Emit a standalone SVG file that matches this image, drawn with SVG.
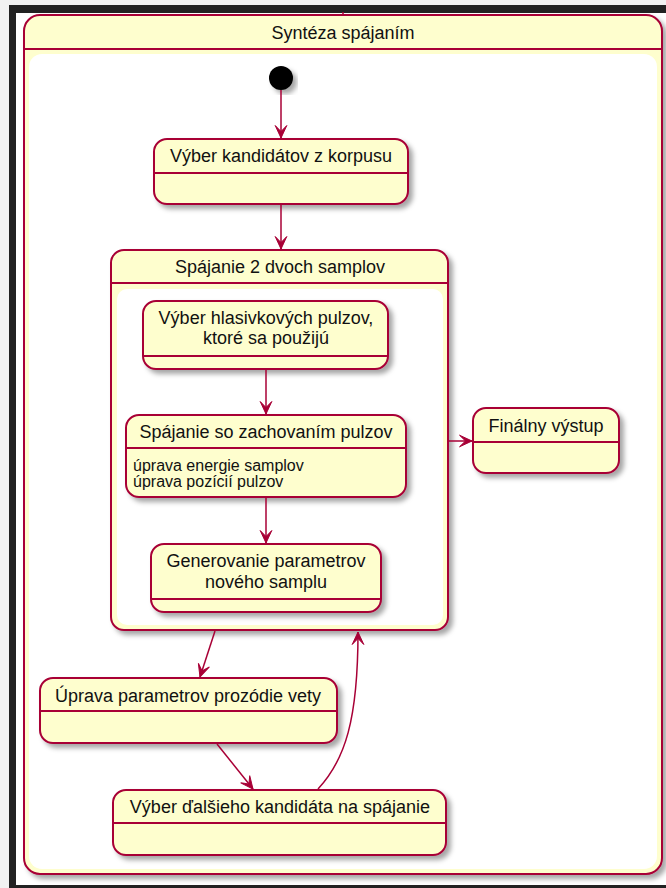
<svg xmlns="http://www.w3.org/2000/svg" width="666" height="888" viewBox="0 0 666 888">
<style>
.node{fill:#FEFECE;stroke:#A80036;stroke-width:2;filter:url(#sh)}
.sep{stroke:#A80036;stroke-width:2;fill:none}
.inner{fill:#FFFFFF;stroke:none}
.t{font-family:"Liberation Sans",Arial,sans-serif;font-size:18px;fill:#111;text-anchor:middle}
.s{font-family:"Liberation Sans",Arial,sans-serif;font-size:16px;fill:#111;text-anchor:start}
.edge{fill:none;stroke:#A80036;stroke-width:1.5;marker-end:url(#arr)}
</style>
<defs>
<filter id="sh" x="-10%" y="-10%" width="130%" height="130%">
<feDropShadow dx="4" dy="4" stdDeviation="2.5" flood-color="#000" flood-opacity="0.35"/>
</filter>
<marker id="arr" viewBox="-14 -8 16 16" markerUnits="userSpaceOnUse" markerWidth="16" markerHeight="16" refX="0" refY="0" orient="auto">
<path d="M0,0 L-12.5,-5.8 L-6.5,0 L-12.5,5.8 Z" fill="#A80036" stroke="#A80036" stroke-width="1"/>
</marker>
</defs>
<rect x="0" y="0" width="666" height="888" fill="#F2F2F2"/>
<rect x="9" y="5" width="657" height="883" fill="#222222"/>
<rect x="16" y="13" width="650" height="872" fill="#FFFFFF"/>

<g id="synteza">
<rect class="node" x="24" y="15" width="638" height="859" rx="16"/>
<line class="sep" x1="24" y1="49" x2="662" y2="49"/>
<rect class="inner" x="29" y="54" width="628" height="815" rx="13"/>
<text class="t" x="343" y="39">Syntéza spájaním</text>
</g>
<line x1="343" y1="12" x2="343" y2="15" stroke="#A80036" stroke-width="1.5"/>

<g id="start">
<circle cx="281" cy="78" r="12" fill="#000" filter="url(#sh)"/>
</g>

<g id="vyber-kandidatov">
<rect class="node" x="154" y="139" width="254" height="65" rx="13"/>
<line class="sep" x1="154" y1="173" x2="408" y2="173"/>
<text class="t" x="281" y="162">Výber kandidátov z korpusu</text>
</g>

<g id="spajanie">
<rect class="node" x="111" y="250" width="337" height="380" rx="13"/>
<line class="sep" x1="111" y1="283" x2="448" y2="283"/>
<rect class="inner" x="117" y="289" width="326" height="336" rx="10"/>
<text class="t" x="280" y="273">Spájanie 2 dvoch samplov</text>
</g>

<g id="vyber-pulzov">
<rect class="node" x="143" y="301" width="245" height="68" rx="13"/>
<line class="sep" x1="143" y1="356" x2="388" y2="356"/>
<text class="t" x="266" y="324">Výber hlasivkových pulzov,</text>
<text class="t" x="266" y="344">ktoré sa použijú</text>
</g>

<g id="spajanie-pulzov">
<rect class="node" x="126" y="415" width="280" height="82" rx="13"/>
<line class="sep" x1="126" y1="448" x2="406" y2="448"/>
<text class="t" x="266" y="438">Spájanie so zachovaním pulzov</text>
<text class="s" x="133" y="471">úprava energie samplov</text>
<text class="s" x="133" y="487">úprava pozícií pulzov</text>
</g>

<g id="generovanie">
<rect class="node" x="151" y="544" width="230" height="68" rx="13"/>
<line class="sep" x1="151" y1="599" x2="381" y2="599"/>
<text class="t" x="266" y="567">Generovanie parametrov</text>
<text class="t" x="266" y="588">nového samplu</text>
</g>

<g id="finalny">
<rect class="node" x="473" y="408" width="146" height="65" rx="13"/>
<line class="sep" x1="473" y1="442" x2="619" y2="442"/>
<text class="t" x="546" y="432">Finálny výstup</text>
</g>

<g id="uprava">
<rect class="node" x="40" y="678" width="297" height="65" rx="13"/>
<line class="sep" x1="40" y1="711" x2="337" y2="711"/>
<text class="t" x="188" y="702">Úprava parametrov prozódie vety</text>
</g>

<g id="vyber-dalsieho">
<rect class="node" x="113" y="790" width="333" height="65" rx="13"/>
<line class="sep" x1="113" y1="823" x2="446" y2="823"/>
<text class="t" x="280" y="813">Výber ďalšieho kandidáta na spájanie</text>
</g>

<g id="connectors">
<path class="edge" d="M281,90 L281,138"/>
<path class="edge" d="M281,204 L281,249"/>
<path class="edge" d="M266,369 L266,414"/>
<path class="edge" d="M266,497 L266,543"/>
<path class="edge" d="M448,441 L472,441"/>
<path class="edge" d="M215,631 L200,677"/>
<path class="edge" d="M217,744 L253,789"/>
<path class="edge" d="M318,789 C345,760 358,720 358,632"/>
</g>
</svg>
